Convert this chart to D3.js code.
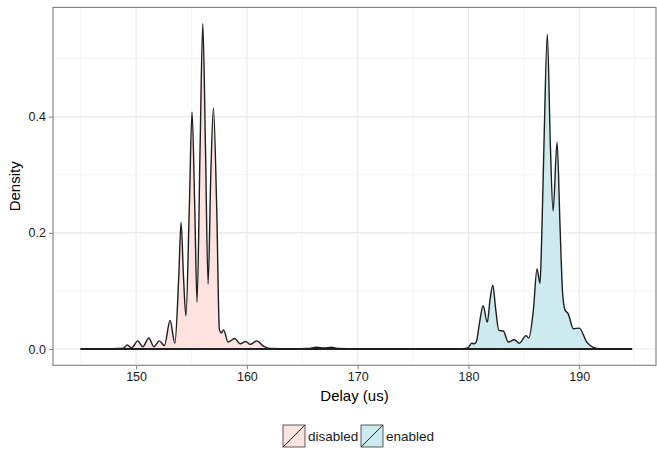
<!DOCTYPE html>
<html>
<head>
<meta charset="utf-8">
<script src="https://cdn.jsdelivr.net/npm/d3@7"></script>
<style>
  body { margin: 0; background: #fff; }
  svg text { font-family: "Liberation Sans", Arial, sans-serif; }
</style>
</head>
<body>
<div id="chart"></div>
<script>
// density estimates
var groups = ["disabled", "enabled"];
var groupFill = ["#fde3e0", "#cdebee"];

var disabledDelay = [145, 148.5, 148.9, 149.2, 149.6, 150.15, 150.6, 151.15, 151.6, 152.1, 152.55, 153.07, 153.5, 153.85, 154.06, 154.28, 154.5, 154.8, 155.05, 155.3, 155.5, 155.78, 156.02, 156.26, 156.5, 156.74, 156.98, 157.28, 157.52, 157.7, 157.9, 158.3, 158.9, 159.4, 159.9, 160.3, 160.9, 161.5, 162.1, 164, 165.5, 166.3, 167, 167.6, 168.3, 170, 194.77];
var disabledDensity = [0, 0.001, 0.002, 0.007, 0.002, 0.014, 0.004, 0.019, 0.004, 0.014, 0.006, 0.049, 0.01, 0.124, 0.218, 0.124, 0.057, 0.24, 0.408, 0.24, 0.081, 0.35, 0.56, 0.35, 0.112, 0.297, 0.415, 0.24, 0.033, 0.028, 0.033, 0.012, 0.018, 0.009, 0.013, 0.008, 0.014, 0.005, 0.001, 0.0005, 0.001, 0.003, 0.002, 0.003, 0.001, 0.0005, 0];

var enabledDelay = [145, 179.5, 179.94, 180.3, 180.5, 180.7, 181.0, 181.32, 181.7, 181.95, 182.2, 182.45, 182.75, 183.15, 183.6, 184.15, 184.6, 185.2, 185.45, 185.86, 186.19, 186.46, 186.6, 186.82, 187.12, 187.39, 187.64, 188.0, 188.27, 188.5, 188.72, 189.0, 189.47, 190.0, 190.68, 191.27, 191.9, 194.77];
var enabledDensity = [0, 0.0005, 0.002, 0.01, 0.009, 0.012, 0.045, 0.0746, 0.046, 0.085, 0.11, 0.07, 0.032, 0.031, 0.012, 0.016, 0.01, 0.023, 0.019, 0.067, 0.138, 0.113, 0.182, 0.354, 0.542, 0.354, 0.2375, 0.356, 0.21, 0.096, 0.067, 0.061, 0.035, 0.036, 0.012, 0.003, 0.0005, 0];

var xTicks = [150, 160, 170, 180, 190];
var xMinor = [145, 155, 165, 175, 185, 195];
var yTicks = [0, 0.2, 0.4];
var yMinor = [0.1, 0.3, 0.5];

var width = 657, height = 452;
var panel = {left: 53, right: 656, top: 7.4, bottom: 365.3};

var svg = d3.select("#chart").append("svg")
    .attr("width", width)
    .attr("height", height);

svg.append("rect").attr("width", width).attr("height", height).attr("fill", "#fff");

var x = d3.scaleLinear().domain([142.5, 196.93]).range([panel.left, panel.right]);
var y = d3.scaleLinear().domain([-0.028, 0.588]).range([panel.bottom, panel.top]);

// grid
var grid = svg.append("g");
grid.selectAll(".xmin").data(xMinor).enter().append("line")
    .attr("x1", d => x(d)).attr("x2", d => x(d))
    .attr("y1", panel.top).attr("y2", panel.bottom)
    .attr("stroke", "#f5f5f5").attr("stroke-width", 1);
grid.selectAll(".ymin").data(yMinor).enter().append("line")
    .attr("x1", panel.left).attr("x2", panel.right)
    .attr("y1", d => y(d)).attr("y2", d => y(d))
    .attr("stroke", "#f5f5f5").attr("stroke-width", 1);
grid.selectAll(".xmaj").data(xTicks).enter().append("line")
    .attr("x1", d => x(d)).attr("x2", d => x(d))
    .attr("y1", panel.top).attr("y2", panel.bottom)
    .attr("stroke", "#e8e8e8").attr("stroke-width", 1.1);
grid.selectAll(".ymaj").data(yTicks).enter().append("line")
    .attr("x1", panel.left).attr("x2", panel.right)
    .attr("y1", d => y(d)).attr("y2", d => y(d))
    .attr("stroke", "#e8e8e8").attr("stroke-width", 1.1);

// density areas
var series = [
  {name: groups[0], fill: groupFill[0], pts: d3.zip(disabledDelay, disabledDensity)},
  {name: groups[1], fill: groupFill[1], pts: d3.zip(enabledDelay, enabledDensity)}
];

var area = d3.area()
    .x(d => x(d[0]))
    .y0(y(0))
    .y1(d => y(d[1]))
    .curve(d3.curveMonotoneX);

var line = d3.line()
    .x(d => x(d[0]))
    .y(d => y(d[1]))
    .curve(d3.curveMonotoneX);

series.forEach(function(s) {
  svg.append("path")
      .attr("d", area(s.pts))
      .attr("fill", s.fill);
});
series.forEach(function(s) {
  svg.append("path")
      .attr("d", line(s.pts))
      .attr("fill", "none")
      .attr("stroke", "#1e1e1e")
      .attr("stroke-width", 1.4);
  // bottom edge of the polygon
  svg.append("line")
      .attr("x1", x(s.pts[0][0])).attr("x2", x(s.pts[s.pts.length - 1][0]))
      .attr("y1", y(0)).attr("y2", y(0))
      .attr("stroke", "#1e1e1e").attr("stroke-width", 1.4);
});

// panel border
svg.append("rect")
    .attr("x", panel.left).attr("y", panel.top)
    .attr("width", panel.right - panel.left).attr("height", panel.bottom - panel.top)
    .attr("fill", "none").attr("stroke", "#7f7f7f").attr("stroke-width", 1.1);

// axes
var xAxis = svg.append("g")
    .attr("transform", "translate(0," + panel.bottom + ")")
    .call(d3.axisBottom(x).tickValues(xTicks).tickSize(4).tickPadding(3).tickFormat(d3.format("d")));
var yAxis = svg.append("g")
    .attr("transform", "translate(" + panel.left + ",0)")
    .call(d3.axisLeft(y).tickValues(yTicks).tickSize(4).tickPadding(3).tickFormat(d3.format(".1f")));

[xAxis, yAxis].forEach(function(a) {
  a.select(".domain").remove();
  a.selectAll(".tick line").attr("stroke", "#7f7f7f");
  a.selectAll(".tick text").attr("fill", "#1a1a1a").style("font-size", "12.5px")
      .style("font-family", "'Liberation Sans', Arial, sans-serif");
});

svg.append("text")
    .attr("x", (panel.left + panel.right) / 2).attr("y", 401)
    .attr("text-anchor", "middle").style("font-size", "15px").attr("fill", "#000")
    .text("Delay (us)");

svg.append("text")
    .attr("transform", "translate(20," + (panel.top + panel.bottom) / 2 + ") rotate(-90)")
    .attr("text-anchor", "middle").style("font-size", "15px").attr("fill", "#000")
    .text("Density");

// legend
var keyX = [283, 361];
var legend = svg.append("g");
series.forEach(function(s, i) {
  var g = legend.append("g").attr("transform", "translate(" + keyX[i] + ",425)");
  g.append("rect").attr("width", 22).attr("height", 22)
      .attr("fill", s.fill).attr("stroke", "#333").attr("stroke-width", 0.8);
  g.append("line").attr("x1", 0).attr("y1", 22).attr("x2", 22).attr("y2", 0)
      .attr("stroke", "#222").attr("stroke-width", 1);
  g.append("text").attr("x", 25).attr("y", 16)
      .style("font-size", "13.5px").attr("fill", "#1a1a1a")
      .text(s.name);
});
</script>
</body>
</html>
